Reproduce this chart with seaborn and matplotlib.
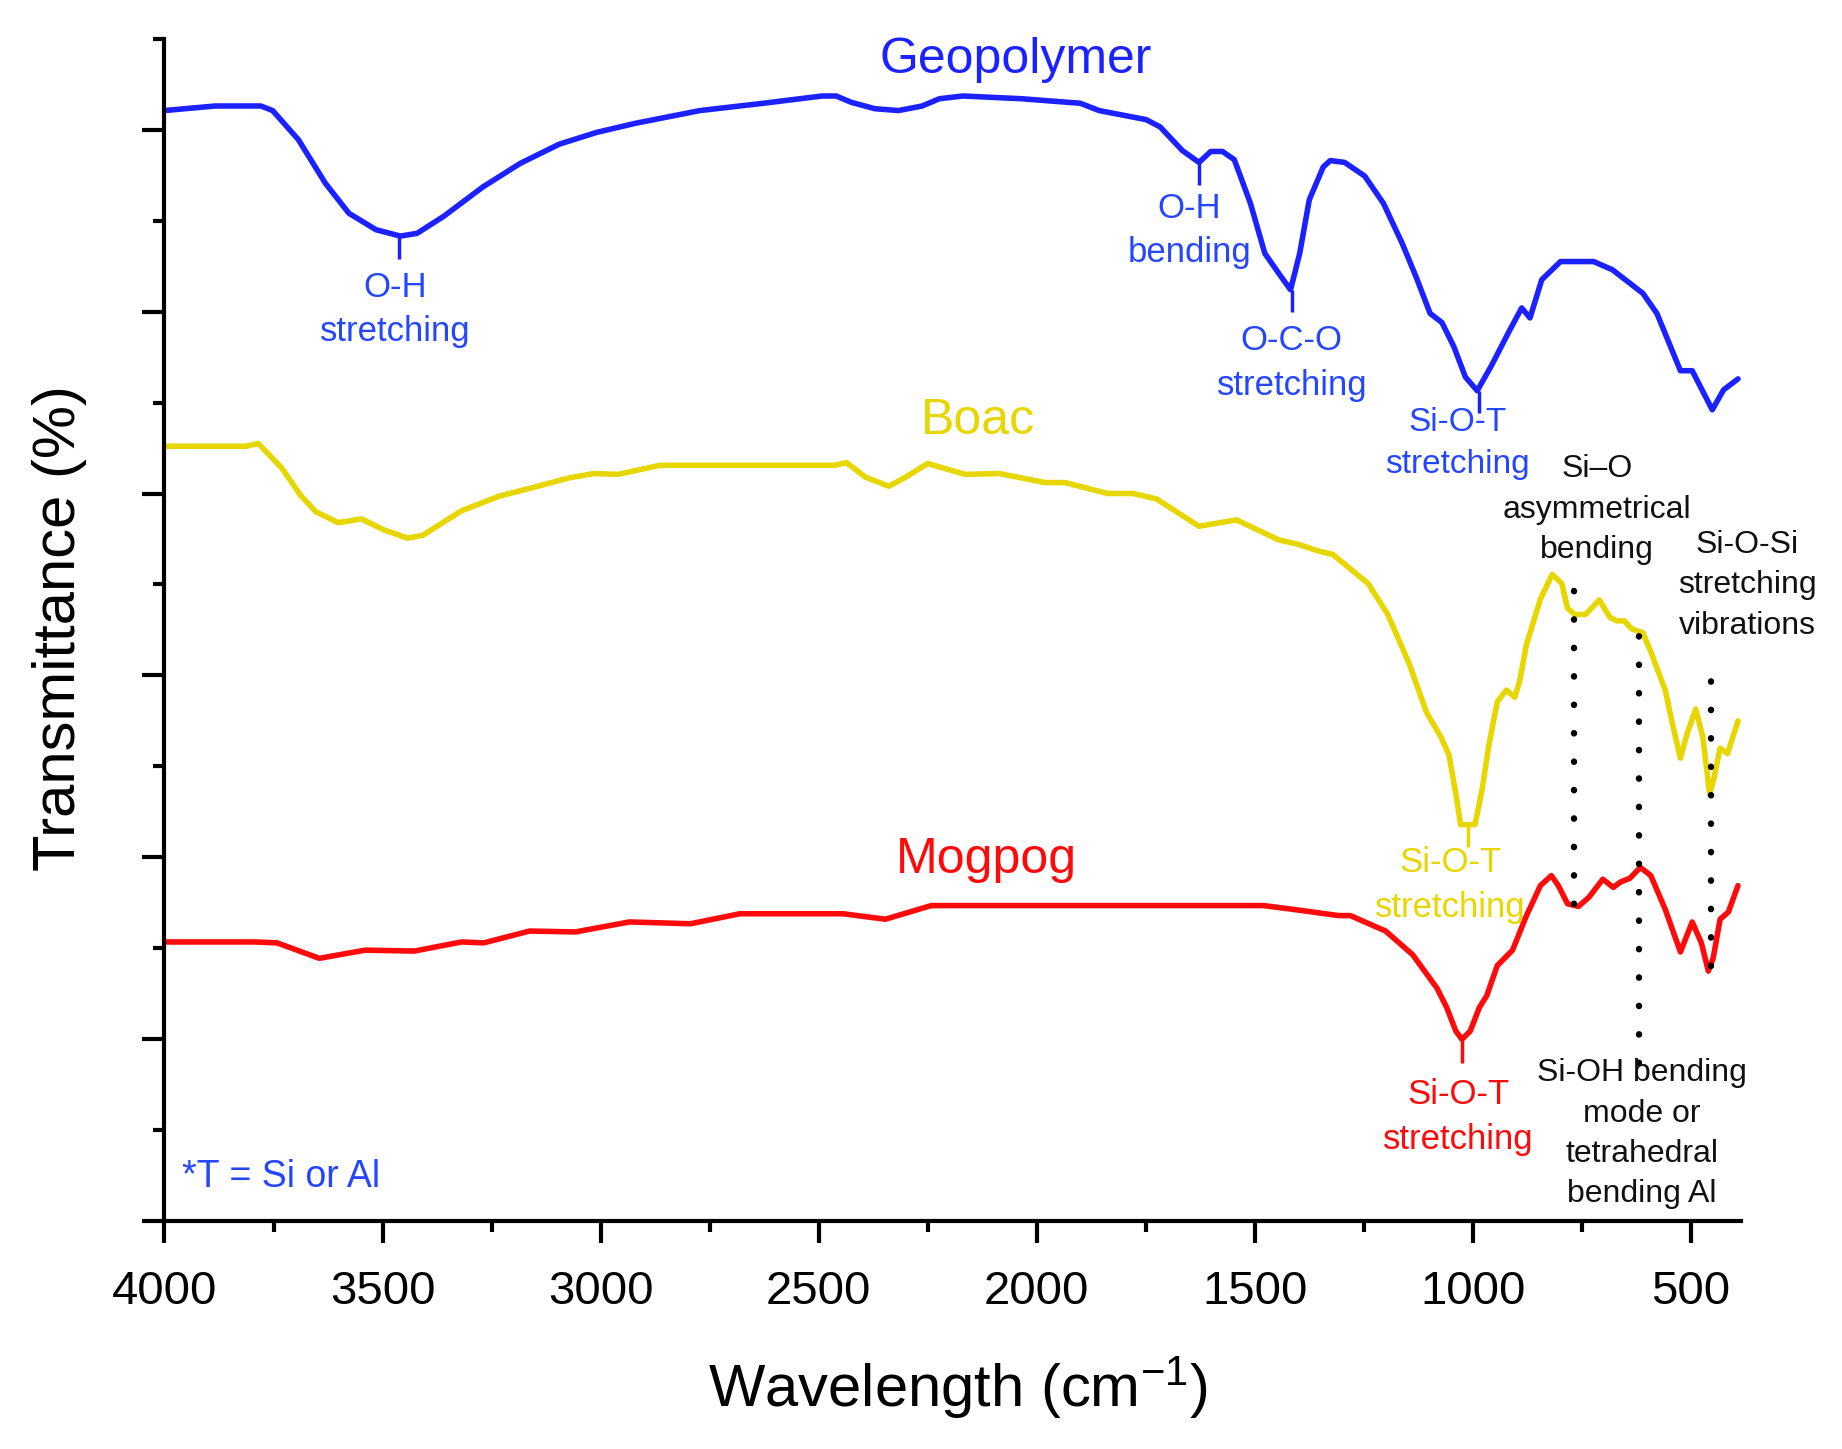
import numpy as np
import pandas as pd
import seaborn as sns
import matplotlib.pyplot as plt

# spectra: wavenumber (cm-1) and stacked transmittance (a.u.)
geo_x = [4000, 3884, 3779, 3752, 3693, 3631, 3577, 3515, 3459, 3421, 3359, 3270, 3184, 3095, 3009,
         2920, 2772, 2627, 2492, 2460, 2425, 2371, 2317, 2263, 2223, 2169, 2035, 1900, 1857, 1749,
         1717, 1666, 1628, 1601, 1574, 1547, 1510, 1477, 1445, 1418, 1397, 1375, 1343, 1327, 1294,
         1248, 1205, 1162, 1130, 1098, 1071, 1044, 1017, 990, 958, 915, 888, 869, 842, 799, 723,
         680, 610, 578, 524, 497, 451, 425, 392]
geo_y = [12.21, 12.26, 12.26, 12.21, 11.89, 11.41, 11.08, 10.90, 10.83, 10.86, 11.05, 11.37, 11.63,
         11.84, 11.97, 12.07, 12.21, 12.29, 12.37, 12.37, 12.30, 12.23, 12.21, 12.26, 12.34, 12.37,
         12.34, 12.29, 12.21, 12.11, 12.03, 11.77, 11.64, 11.76, 11.76, 11.67, 11.19, 10.64, 10.42,
         10.24, 10.64, 11.23, 11.59, 11.66, 11.64, 11.49, 11.19, 10.75, 10.38, 9.98, 9.88, 9.62,
         9.28, 9.13, 9.40, 9.80, 10.04, 9.93, 10.35, 10.55, 10.55, 10.46, 10.20, 9.98, 9.35, 9.35,
         8.92, 9.14, 9.26]

boac_x = [4000, 3812, 3785, 3731, 3688, 3653, 3602, 3548, 3497, 3443, 3408, 3319, 3233, 3144, 3074,
          3015, 2961, 2864, 2794, 2463, 2436, 2393, 2339, 2304, 2250, 2164, 2086, 1981, 1935, 1838,
          1779, 1725, 1628, 1542, 1445, 1399, 1356, 1321, 1240, 1195, 1146, 1106, 1074, 1055, 1039,
          1028, 995, 979, 963, 944, 923, 904, 893, 877, 845, 818, 796, 783, 767, 742, 710, 686, 670,
          653, 635, 610, 592, 559, 540, 524, 508, 489, 473, 457, 449, 433, 416, 392]
boac_y = [8.52, 8.52, 8.55, 8.28, 7.98, 7.80, 7.68, 7.72, 7.60, 7.51, 7.54, 7.81, 7.97, 8.08, 8.17,
          8.22, 8.21, 8.31, 8.31, 8.31, 8.34, 8.18, 8.08, 8.17, 8.33, 8.21, 8.22, 8.12, 8.12, 8.00,
          8.00, 7.94, 7.64, 7.71, 7.49, 7.44, 7.37, 7.33, 7.01, 6.67, 6.13, 5.59, 5.33, 5.13, 4.70,
          4.36, 4.36, 4.74, 5.24, 5.71, 5.84, 5.76, 5.93, 6.34, 6.84, 7.11, 7.01, 6.74, 6.67, 6.67,
          6.83, 6.64, 6.60, 6.60, 6.51, 6.47, 6.26, 5.84, 5.42, 5.09, 5.37, 5.63, 5.33, 4.70, 4.83,
          5.20, 5.14, 5.50]

mog_x = [4000, 3793, 3742, 3645, 3540, 3427, 3319, 3268, 3163, 3058, 2934, 2794, 2681, 2444, 2347,
         2242, 1480, 1399, 1308, 1281, 1200, 1138, 1082, 1060, 1039, 1025, 1006, 985, 968, 944, 909,
         877, 845, 820, 804, 783, 758, 734, 702, 678, 661, 640, 616, 592, 559, 524, 497, 476, 460,
         449, 433, 414, 392]
mog_y = [3.07, 3.07, 3.06, 2.89, 2.98, 2.97, 3.07, 3.06, 3.19, 3.18, 3.29, 3.27, 3.38, 3.38, 3.32,
         3.47, 3.47, 3.42, 3.36, 3.36, 3.19, 2.93, 2.56, 2.35, 2.09, 2.00, 2.09, 2.35, 2.48, 2.81,
         2.98, 3.36, 3.69, 3.80, 3.69, 3.49, 3.46, 3.56, 3.76, 3.67, 3.73, 3.77, 3.89, 3.80, 3.43,
         2.96, 3.29, 3.06, 2.75, 2.89, 3.32, 3.40, 3.69]

# band assignments marked with a short tick under the band
geo_bands = [3462, 1628, 1415, 985]
geo_band_top = [10.83, 11.64, 10.24, 9.13]
boac_bands = [1012]
boac_band_top = [4.36]
mog_bands = [1025]
mog_band_top = [2.00]

# dotted guide lines (wavenumber, top, bottom)
guide_x = [767, 618, 455]
guide_top = [7.14, 6.51, 6.16]
guide_bottom = [3.49, 1.74, 2.81]

blue = "#1c22ff"
blue_txt = "#2546ff"
yellow = "#e8d600"
red = "#ff0a0a"

sns.set_style("ticks")
plt.rcParams['font.family'] = ['Liberation Sans', 'DejaVu Sans']
plt.rcParams['mathtext.fontset'] = 'custom'
plt.rcParams['mathtext.rm'] = 'Liberation Sans'
plt.rcParams['mathtext.default'] = 'regular'
plt.rcParams['text.color'] = 'black'
plt.rcParams['axes.labelcolor'] = 'black'
plt.rcParams['xtick.color'] = 'black'
plt.rcParams['ytick.color'] = 'black'

fig = plt.figure(figsize=(18.42, 14.49), dpi=100)
ax = fig.add_axes([0.0893, 0.1572, 0.8559, 0.8161])

for xs, ys, col in [(geo_x, geo_y, blue), (boac_x, boac_y, yellow), (mog_x, mog_y, red)]:
    df = pd.DataFrame({"wavenumber": xs, "T": ys})
    sns.lineplot(data=df, x="wavenumber", y="T", sort=False, estimator=None,
                 color=col, lw=4, ax=ax, solid_joinstyle="round", solid_capstyle="round")

# band ticks
ax.vlines(geo_bands, [t - 0.25 for t in geo_band_top], geo_band_top, color=blue, lw=2.5)
ax.vlines(boac_bands, [t - 0.25 for t in boac_band_top], boac_band_top, color=yellow, lw=2.5)
ax.vlines(mog_bands, [t - 0.26 for t in mog_band_top], mog_band_top, color=red, lw=2.5)

for gx, gt, gb in zip(guide_x, guide_top, guide_bottom):
    ax.plot([gx, gx], [gb, gt], color="black", lw=4.6, linestyle=(0, (0.05, 4.4)),
            dash_capstyle="round")

# series names
ax.text(2048, 12.77, "Geopolymer", color=blue, fontsize=36, ha="center", va="center")
ax.text(2134, 8.80, "Boac", color=yellow, fontsize=36, ha="center", va="center")
ax.text(2115, 3.97, "Mogpog", color=red, fontsize=36, ha="center", va="center")

# band labels
ann = dict(ha="center", va="top", fontsize=25, linespacing=1.45)
ax.text(3470, 10.45, "O-H\nstretching", color=blue_txt, **ann)
ax.text(1650, 11.32, "O-H\nbending", color=blue_txt, **ann)
ax.text(1415, 9.86, "O-C-O\nstretching", color=blue_txt, **ann)
ax.text(1035, 8.95, "Si-O-T\nstretching", color=blue_txt, ha="center", va="top",
        fontsize=24, linespacing=1.45)
ax.text(1052, 4.12, "Si-O-T\nstretching", color=yellow, **ann)
ax.text(1033, 1.57, "Si-O-T\nstretching", color=red, **ann)

blk = dict(ha="center", va="top", fontsize=23, linespacing=1.45, color="#111111")
ax.text(716, 8.43, "Si\u2013O\nasymmetrical\nbending", **blk)
ax.text(371, 7.60, "Si-O-Si\nstretching\nvibrations", **blk)
ax.text(613, 1.79, "Si-OH bending\nmode or\ntetrahedral\nbending Al", **blk)

ax.text(3960, 0.49, "*T = Si or Al", color=blue_txt, fontsize=27, ha="left", va="center")

# axes styling
ax.set_xlim(4000, 385)
ax.set_ylim(0, 13)
ax.set_xticks([4000, 3500, 3000, 2500, 2000, 1500, 1000, 500])
ax.set_xticks([3750, 3250, 2750, 2250, 1750, 1250, 750], minor=True)
ax.set_yticks(np.arange(0, 13, 2))
ax.set_yticks(np.arange(1, 14, 2), minor=True)
ax.set_yticklabels([])
ax.tick_params(axis="both", which="major", direction="out", length=16, width=3,
               labelsize=34, pad=19, color="black", labelcolor="black")
ax.tick_params(axis="both", which="minor", direction="out", length=8, width=3, color="black")
for side in ["top", "right"]:
    ax.spines[side].set_visible(False)
for side in ["left", "bottom"]:
    ax.spines[side].set_linewidth(3)
    ax.spines[side].set_color("black")

ax.set_xlabel("Wavelength (cm$^{-1}$)", fontsize=43)
ax.set_ylabel("Transmittance (%)", fontsize=43)
ax.xaxis.set_label_coords(0.503, -0.112)
ax.yaxis.set_label_coords(-0.049, 0.5015)

fig.savefig("out.png", dpi=100, facecolor="white")
